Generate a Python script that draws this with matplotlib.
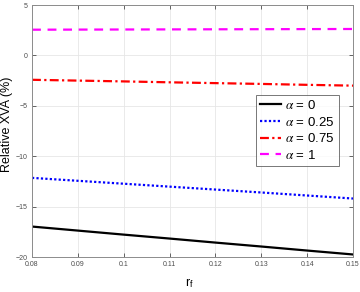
import matplotlib
matplotlib.use("Agg")
import matplotlib.pyplot as plt
import numpy as np

plt.rcParams['font.family'] = ['Liberation Sans', 'DejaVu Sans']
plt.rcParams['mathtext.fontset'] = 'stix'

rf = [0.08, 0.09, 0.10, 0.11, 0.12, 0.13, 0.14, 0.15]
xva_a0 = [-16.98, -17.38, -17.78, -18.17, -18.57, -18.96, -19.36, -19.75]
xva_a025 = [-12.15, -12.44, -12.73, -13.02, -13.31, -13.60, -13.90, -14.20]
xva_a075 = [-2.42, -2.50, -2.58, -2.67, -2.75, -2.83, -2.92, -3.00]
xva_a1 = [2.55, 2.56, 2.57, 2.58, 2.59, 2.60, 2.61, 2.62]
labels = [r"$\alpha$ = 0", r"$\alpha$ = 0.25", r"$\alpha$ = 0.75", r"$\alpha$ = 1"]
xticks = [0.08, 0.09, 0.1, 0.11, 0.12, 0.13, 0.14, 0.15]
xticklabels = ["0.08", "0.09", "0.1", "0.11", "0.12", "0.13", "0.14", "0.15"]
yticks = [-20, -15, -10, -5, 0, 5]

fig = plt.figure(figsize=(3.6, 2.92), dpi=100)
ax = fig.add_axes([32/360, 1-257/292, (353-32)/360, (257-5)/292])

ax.plot(rf, xva_a0, color="black", lw=1.6, ls="-", label=labels[0])
ax.plot(rf, xva_a025, color="blue", lw=1.6, ls=(0, (1, 1)), label=labels[1])
ax.plot(rf, xva_a075, color="red", lw=1.6, ls=(0, (4, 1.5, 1, 1.5)), label=labels[2])
ax.plot(rf, xva_a1, color="magenta", lw=1.6, ls=(0, (4, 3)), label=labels[3])

ax.set_xlim(0.08, 0.15)
ax.set_ylim(-20, 5)
ax.set_xticks(xticks)
ax.set_xticklabels(xticklabels)
ax.set_yticks(yticks)
ax.grid(True, color="#e6e6e6", lw=0.6)
ax.set_axisbelow(True)
ax.tick_params(direction="in", length=3, width=0.6, labelsize=5, colors="#4d4d4d",
               top=True, right=True, pad=3)
for s in ax.spines.values():
    s.set_color("#8c8c8c")
    s.set_linewidth(0.7)
ax.set_ylabel("Relative XVA (%)", fontsize=9)
ax.yaxis.set_label_coords(-0.06, 0.528)
ax.set_xlabel(r"r$_\mathregular{f}$", fontsize=9)
ax.xaxis.set_label_coords(0.489, -0.075)

leg = ax.legend(loc="upper right", bbox_to_anchor=(0.956, 0.643), fontsize=9.5,
                handlelength=1.6, handletextpad=0.3, labelspacing=0.28,
                borderpad=0.3, borderaxespad=0, frameon=True, fancybox=False)
leg.get_frame().set_edgecolor("#555555")
leg.get_frame().set_linewidth(0.7)

fig.savefig("out.png", dpi=100)
